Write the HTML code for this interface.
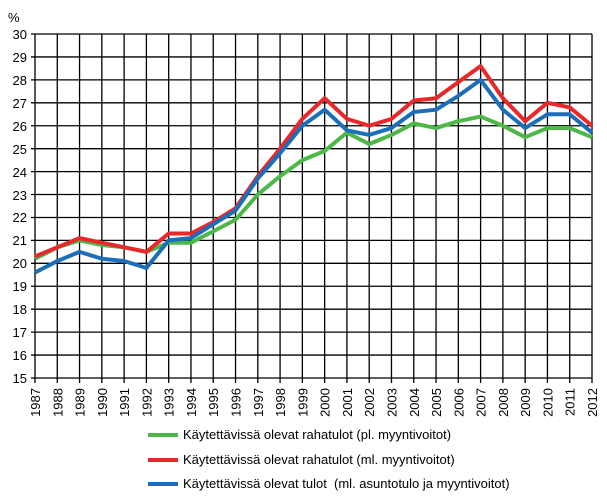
<!DOCTYPE html><html><head><style>body{margin:0;background:#fff}svg text{font-family:"Liberation Sans",Arial,sans-serif;font-size:13px;fill:#000}</style></head><body>
<svg width="607" height="493" xmlns="http://www.w3.org/2000/svg">
<g stroke="#000" stroke-width="1.3" fill="none">
<path d="M31 34H592M31 56.93H592M31 79.87H592M31 102.8H592M31 125.73H592M31 148.67H592M31 171.6H592M31 194.53H592M31 217.47H592M31 240.4H592M31 263.33H592M31 286.27H592M31 309.2H592M31 332.13H592M31 355.07H592M31 378H592"/>
<path d="M35 34V383M57.28 34V383M79.56 34V383M101.84 34V383M124.12 34V383M146.4 34V383M168.68 34V383M190.96 34V383M213.24 34V383M235.52 34V383M257.8 34V383M280.08 34V383M302.36 34V383M324.64 34V383M346.92 34V383M369.2 34V383M391.48 34V383M413.76 34V383M436.04 34V383M458.32 34V383M480.6 34V383M502.88 34V383M525.16 34V383M547.44 34V383M569.72 34V383M592 34V383"/>
</g>
<g text-anchor="end">
<text x="27" y="39">30</text><text x="27" y="62">29</text><text x="27" y="85">28</text><text x="27" y="108">27</text><text x="27" y="131">26</text><text x="27" y="154">25</text><text x="27" y="177">24</text><text x="27" y="200">23</text><text x="27" y="222">22</text><text x="27" y="245">21</text><text x="27" y="268">20</text><text x="27" y="291">19</text><text x="27" y="314">18</text><text x="27" y="337">17</text><text x="27" y="360">16</text><text x="27" y="383">15</text>
<text transform="translate(40,388) rotate(-90)">1987</text>
<text transform="translate(62.28,388) rotate(-90)">1988</text>
<text transform="translate(84.56,388) rotate(-90)">1989</text>
<text transform="translate(106.84,388) rotate(-90)">1990</text>
<text transform="translate(129.12,388) rotate(-90)">1991</text>
<text transform="translate(151.4,388) rotate(-90)">1992</text>
<text transform="translate(173.68,388) rotate(-90)">1993</text>
<text transform="translate(195.96,388) rotate(-90)">1994</text>
<text transform="translate(218.24,388) rotate(-90)">1995</text>
<text transform="translate(240.52,388) rotate(-90)">1996</text>
<text transform="translate(262.8,388) rotate(-90)">1997</text>
<text transform="translate(285.08,388) rotate(-90)">1998</text>
<text transform="translate(307.36,388) rotate(-90)">1999</text>
<text transform="translate(329.64,388) rotate(-90)">2000</text>
<text transform="translate(351.92,388) rotate(-90)">2001</text>
<text transform="translate(374.2,388) rotate(-90)">2002</text>
<text transform="translate(396.48,388) rotate(-90)">2003</text>
<text transform="translate(418.76,388) rotate(-90)">2004</text>
<text transform="translate(441.04,388) rotate(-90)">2005</text>
<text transform="translate(463.32,388) rotate(-90)">2006</text>
<text transform="translate(485.6,388) rotate(-90)">2007</text>
<text transform="translate(507.88,388) rotate(-90)">2008</text>
<text transform="translate(530.16,388) rotate(-90)">2009</text>
<text transform="translate(552.44,388) rotate(-90)">2010</text>
<text transform="translate(574.72,388) rotate(-90)">2011</text>
<text transform="translate(597,388) rotate(-90)">2012</text>
</g>
<text x="8" y="22">%</text>
<g fill="none" stroke-width="4" stroke-linejoin="round">
<polyline stroke="#4db848" points="35,258.75 57.28,247.29 79.56,240.41 101.84,244.99 124.12,247.29 146.4,251.87 168.68,242.7 190.96,242.7 213.24,231.23 235.52,219.77 257.8,194.54 280.08,176.19 302.36,160.14 324.64,150.97 346.92,132.62 369.2,144.09 391.48,134.92 413.76,123.45 436.04,128.04 458.32,121.16 480.6,116.57 502.88,125.74 525.16,137.21 547.44,128.04 569.72,128.04 592,137.21"/>
<polyline stroke="#e8282b" points="35,256.46 57.28,247.29 79.56,238.11 101.84,242.7 124.12,247.29 146.4,251.87 168.68,233.53 190.96,233.53 213.24,222.06 235.52,208.3 257.8,176.19 280.08,148.67 302.36,118.86 324.64,98.22 346.92,118.86 369.2,125.74 391.48,118.86 413.76,100.52 436.04,98.22 458.32,82.17 480.6,66.12 502.88,98.22 525.16,121.16 547.44,102.81 569.72,107.4 592,125.74"/>
<polyline stroke="#1b6fba" points="35,272.51 57.28,261.05 79.56,251.87 101.84,258.75 124.12,261.05 146.4,267.93 168.68,240.41 190.96,238.11 213.24,224.35 235.52,210.59 257.8,178.49 280.08,153.26 302.36,125.74 324.64,109.69 346.92,130.33 369.2,134.92 391.48,128.04 413.76,111.98 436.04,109.69 458.32,95.93 480.6,79.88 502.88,109.69 525.16,128.04 547.44,114.28 569.72,114.28 592,132.62"/>
<line x1="148" x2="178" y1="435" y2="435" stroke="#4db848"/>
<line x1="148" x2="178" y1="460" y2="460" stroke="#e8282b"/>
<line x1="148" x2="178" y1="484" y2="484" stroke="#1b6fba"/>
</g>
<text x="183" y="439">Käytettävissä olevat rahatulot (pl. myyntivoitot)</text>
<text x="183" y="464">Käytettävissä olevat rahatulot (ml. myyntivoitot)</text>
<text x="183" y="488" xml:space="preserve">Käytettävissä olevat tulot  (ml. asuntotulo ja myyntivoitot)</text>
</svg></body></html>
